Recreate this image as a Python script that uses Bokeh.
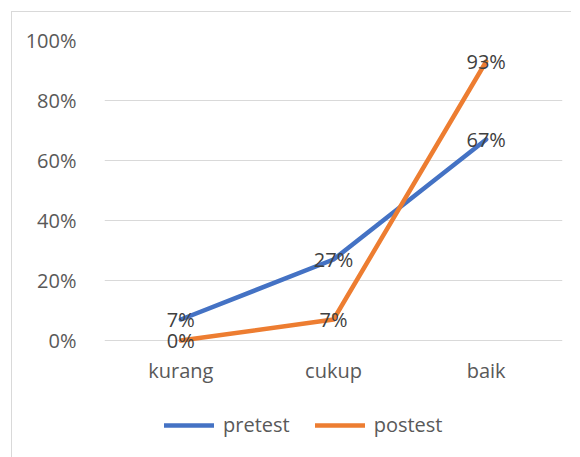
from bokeh.plotting import figure
from bokeh.models import FactorRange, Range1d, NumeralTickFormatter, Legend, LegendItem, ColumnDataSource, FixedTicker
from bokeh.core.properties import value
from bokeh.embed import file_html
from bokeh.resources import INLINE

categories = ["kurang", "cukup", "baik"]
pretest = [0.07, 0.27, 0.67]
postest = [0.00, 0.07, 0.93]
y_ticks = [0, 0.2, 0.4, 0.6, 0.8, 1.0]

FONT = "Open Sans"
BLUE = "#4472C4"
ORANGE = "#ED7D31"

# frame extends below 0% to host the legend; 300px per 100%
p = figure(
    x_range=FactorRange(*categories, range_padding=0),
    y_range=Range1d(-0.35, 1),
    frame_width=458, frame_height=405,
    min_border_left=92, min_border_right=9, min_border_top=28, min_border_bottom=20,
    output_backend="svg", toolbar_location=None,
    margin=(11, 0, 0, 11),
    styles={"border-left": "1px solid #d9d9d9", "border-top": "1px solid #d9d9d9"},
)
p.outline_line_color = None
p.background_fill_color = "white"
p.border_fill_color = "white"

p.xgrid.grid_line_color = None
p.ygrid.grid_line_color = "#d9d9d9"
p.ygrid.grid_line_width = 1

p.yaxis.ticker = FixedTicker(ticks=y_ticks)
p.yaxis.formatter = NumeralTickFormatter(format="0%")
p.xaxis.fixed_location = 0
for ax in (p.xaxis, p.yaxis):
    ax.axis_line_color = None
    ax.major_tick_line_color = None
    ax.minor_tick_line_color = None
    ax.major_label_text_font = FONT
    ax.major_label_text_font_size = "20px"
    ax.major_label_text_color = "#595959"
p.yaxis.major_label_standoff = 22
p.xaxis.major_label_standoff = 10

src = ColumnDataSource(dict(
    cat=categories, pre=pretest, post=postest,
    pre_lbl=[f"{round(v*100)}%" for v in pretest],
    post_lbl=[f"{round(v*100)}%" for v in postest],
))

r1 = p.line("cat", "pre", source=src, line_color=BLUE, line_width=4.5, line_cap="round", line_join="round")
r2 = p.line("cat", "post", source=src, line_color=ORANGE, line_width=4.5, line_cap="round", line_join="round")

for col, ycol in (("pre_lbl", "pre"), ("post_lbl", "post")):
    p.text("cat", ycol, text=col, source=src, text_align="center", text_baseline="middle",
           text_font=value(FONT), text_font_size="20px", text_color="#404040")

legend = Legend(
    items=[LegendItem(label="pretest", renderers=[r1]), LegendItem(label="postest", renderers=[r2])],
    orientation="horizontal", location=(60, 7),
    padding=0, margin=0, spacing=25, label_standoff=9,
    glyph_width=50, glyph_height=20,
    label_text_font=FONT, label_text_font_size="20px", label_text_color="#595959",
    border_line_color=None, background_fill_alpha=0,
)
p.add_layout(legend, "center")

open("out.html", "w").write(file_html(p, INLINE))
